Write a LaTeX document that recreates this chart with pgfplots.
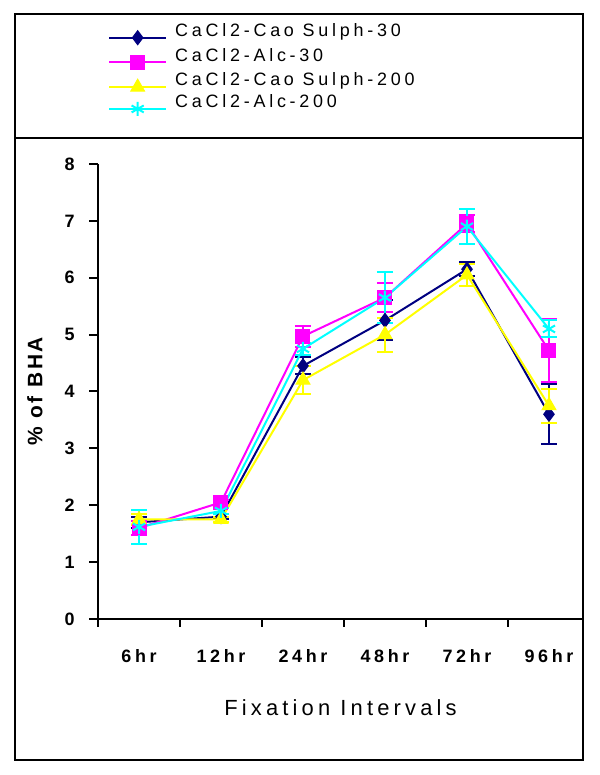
\documentclass[border=0pt]{standalone}
\usepackage{fontspec}
\setmainfont{Liberation Sans}
\usepackage{pgfplots}
\pgfplotsset{compat=1.18}
\definecolor{navyc}{RGB}{0,0,128}
\definecolor{magc}{RGB}{255,0,255}
\definecolor{yelc}{RGB}{255,255,0}
\definecolor{cyac}{RGB}{0,255,255}
\begin{document}
\begin{tikzpicture}[x=1bp,y=1bp]
\path[use as bounding box] (0,0) rectangle (600,775);
\draw[line width=2.5bp] (15,761) rectangle (583,15);
\draw[line width=2.5bp] (15,637) -- (583,637);
\begin{axis}[
  at={(139bp,156bp)}, anchor=origin,
  scale only axis, width=485bp, height=455bp,
  xmin=-0.5, xmax=5.415, ymin=0, ymax=8,
  clip=false,
  axis lines=left,
  axis line style={line width=2.5bp,-, black},
  xtick={0,...,5},
  xticklabels={6hr,12hr,24hr,48hr,72hr,96hr},
  minor xtick={-0.5,0.5,1.5,2.5,3.5,4.5},
  major x tick style={draw=none},
  ytick={0,...,8},
  tick align=outside,
  major tick length=9bp, minor tick length=8bp,
  every tick/.style={line width=2bp, black},
  /pgf/number format/assume math mode=true,
  ticklabel style={font=\bfseries\fontsize{18}{18}\selectfont\addfontfeature{LetterSpace=20}},
  yticklabel style={xshift=-11bp},
  xticklabel style={yshift=-18bp},
  xlabel={Fixation Intervals},
  xlabel style={font=\fontsize{22}{22}\selectfont\addfontfeature{LetterSpace=19}, yshift=-30bp},
  ylabel={\% of BHA},
  ylabel style={font=\bfseries\fontsize{21}{21}\selectfont\addfontfeature{LetterSpace=13}, yshift=15bp},
  legend style={at={(axis description cs:0.0144,1.318)}, anchor=north west, draw=none, fill=none,
    font=\fontsize{18}{18}\selectfont\addfontfeature{LetterSpace=21}, row sep=1.5bp, column sep=6bp},
  legend cell align=left,
  legend image code/.code={\path (0bp,7bp); \draw[mark repeat=2,mark phase=2,#1] plot coordinates {(0bp,-7bp) (28.5bp,-7bp) (57bp,-7bp)};},
]
\addplot[navyc, line width=2bp, mark=diamond*, mark size=7bp, mark options={solid, fill=navyc, line width=1bp},
  error bars/.cd, y dir=both, y explicit, error bar style={line width=2bp, navyc},
  error mark options={rotate=90, mark size=8bp, line width=2bp, navyc}]
  coordinates {(0,1.7) +- (0,0.1) (1,1.8) +- (0,0.05) (2,4.45) +- (0,0.15) (3,5.25) +- (0,0.35) (4,6.15) +- (0,0.12) (5,3.6) +- (0,0.53)};
\addlegendentry{CaCl2-Cao Sulph-30}
\addplot[magc, line width=2bp, mark=square*, mark size=7bp, mark options={solid, fill=magc, line width=1bp},
  error bars/.cd, y dir=both, y explicit, error bar style={line width=2bp, magc},
  error mark options={rotate=90, mark size=8bp, line width=2bp, magc}]
  coordinates {(0,1.6) +- (0,0.12) (1,2.05) +- (0,0.05) (2,4.97) +- (0,0.18) (3,5.65) +- (0,0.25) (4,6.95) +- (0,0.15) (5,4.72) +- (0,0.55)};
\addlegendentry{CaCl2-Alc-30}
\addplot[yelc, line width=2bp, mark=triangle*, mark size=8bp, mark options={solid, fill=yelc, line width=1bp},
  error bars/.cd, y dir=both, y explicit, error bar style={line width=2bp, yelc},
  error mark options={rotate=90, mark size=8bp, line width=2bp, yelc}]
  coordinates {(0,1.75) +- (0,0.1) (1,1.75) +- (0,0.05) (2,4.2) +- (0,0.25) (3,5.0) +- (0,0.3) (4,6.05) +- (0,0.2) (5,3.75) +- (0,0.3)};
\addlegendentry{CaCl2-Cao Sulph-200}
\addplot[cyac, line width=2bp, mark=asterisk, mark size=7bp, mark options={solid, line width=2bp},
  error bars/.cd, y dir=both, y explicit, error bar style={line width=2bp, cyac},
  error mark options={rotate=90, mark size=8bp, line width=2bp, cyac}]
  coordinates {(0,1.62) +- (0,0.3) (1,1.9) +- (0,0.05) (2,4.75) +- (0,0.1) (3,5.65) +- (0,0.45) (4,6.9) +- (0,0.3) (5,5.1) +- (0,0.15)};
\addlegendentry{CaCl2-Alc-200}
\end{axis}
\end{tikzpicture}
\end{document}
